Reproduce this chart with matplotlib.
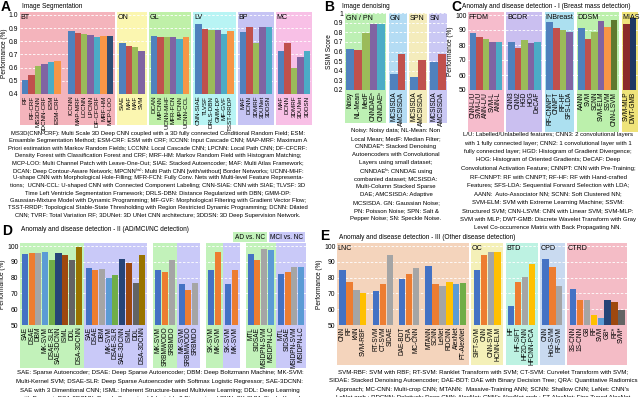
import matplotlib
matplotlib.use("Agg")
import matplotlib.pyplot as plt

plt.rcParams["font.family"] = ["Liberation Sans", "DejaVu Sans"]

W, H = 640, 397

# ---------------- data ----------------
# A: image segmentation (dice)
seg_groups = ["BT", "ON", "GL", "LV", "BP", "MC"]
seg_labels = [
    [["RF", "RF-CRF", "MS3DCNN", "3DCNN-CRF", "ESM", "ESM-CRF"],
     ["ICCNN", "MAP-MRF", "LCCNN", "LPCNN", "DF-CFCRF", "MRF-HM", "MCP-LOO"]],
    [["SIAE", "MAF", "MAF", "SVM"]],
    [["DCAN", "MPCNN", "UCNN-MHF", "MFR-FCN", "MPCNN", "UCNN-CCL"]],
    [["CNN-SIAE", "TLVSF", "DRLS-DBN", "GMM-DP", "MF-GVF", "TSST-RRDP"]],
    [["MAF", "DCNN", "3DMRF", "3DUNet", "3DDSN"]],
    [["MAF", "DCNN", "3DMRF", "3DUNet", "3DDSN"]],
]
seg_values = [
    [[0.51, 0.545, 0.615, 0.63, 0.64, 0.65],
     [0.875, 0.865, 0.855, 0.845, 0.835, 0.84, 0.84]],
    [[0.785, 0.765, 0.755, 0.725]],
    [[0.84, 0.835, 0.83, 0.835, 0.82, 0.83]],
    [[0.935, 0.89, 0.885, 0.885, 0.855, 0.875]],
    [[0.87, 0.91, 0.785, 0.91, 0.91]],
    [[0.73, 0.79, 0.60, 0.68, 0.73]],
]

# B: image denoising (SSIM)
den_groups = ["GN / PN", "GN", "SPN", "SN"]
den_labels = [
    [["Noisy", "NL-Mean", "MedF", "CNNDAEᵃ", "CNNDAEᵇ"]],
    [["MCSISDA", "AMCSISDA"]],
    [["MCSISDA", "AMCSISDA"]],
    [["MCSISDA", "AMCSISDA"]],
]
den_values = [
    [[0.625, 0.615, 0.795, 0.885, 0.89]],
    [[0.37, 0.57]],
    [[0.34, 0.51]],
    [[0.49, 0.57]],
]

# C: breast mass detection
bm_groups = ["FFDM", "BCDR", "INBreast", "DDSM", "MIAS"]
bm_labels = [
    [["CNN-L/U", "SVM-L/U", "ANN-L/U", "SVM-L", "ANN-L"]],
    [["CNN3", "CNN2", "HGD", "HOG", "DeCAF"]],
    [["RF-CNNPT", "CNNPT", "RF-HF", "SFS-LDA"]],
    [["AANN", "SVM", "SCNN", "SVM-ELM", "SSVM", "CNN-LSVM"]],
    [["SVM-MLP", "DWT-GMB"]],
]
bm_values = [
    [[88.2, 85.5, 83.8, 82.3, 81.8]],
    [[81.8, 77.8, 83.1, 81.1, 82.0]],
    [[95.5, 91.1, 90.0, 88.9]],
    [[91.1, 84.0, 88.9, 96.0, 91.8, 97.0]],
    [[94.0, 97.8]],
]

# D: AD / MCI / NC detection (bands alternate AD vs. NC, MCI vs. NC)
ad_groups = ["", "", "", "", "", "", "", ""]
ad_labels = [
    [["SAE", "DSAE", "DBM", "MK-SVM", "DSAE-SLR", "SAE-3DCNN", "ISML", "DDL", "DSA-3DCNN"]],
    [["SAE", "DSAE", "DBM", "MK-SVM", "DSAE-SLR", "SAE-3DCNN", "ISML", "DDL", "DSA-3DCNN"]],
    [["MK-SVM", "SRBMWODO", "SRBMDO"]],
    [["MK-SVM", "SRBMWODO", "SRBMDO"]],
    [["SK-SVM", "MK-SVM"]],
    [["SK-SVM", "MK-SVM"]],
    [["MTL", "SIDSAE", "MSIDPN-SVM", "MSIDPN-LC"]],
    [["MTL", "SIDSAE", "MSIDPN-SVM", "MSIDPN-LC"]],
]
ad_values = [
    [[94.8, 95.9, 95.4, 96.0, 91.3, 95.7, 94.1, 91.3, 99.6]],
    [[86.1, 84.6, 85.2, 79.6, 82.0, 92.0, 89.1, 76.7, 94.3]],
    [[85.0, 83.7, 91.5]],
    [[76.3, 72.4, 76.7]],
    [[85.0, 96.0]],
    [[76.3, 84.6]],
    [[95.0, 91.5, 98.0, 97.4]],
    [[82.2, 83.7, 86.7, 86.7]],
]

# E: other disease detection
od_groups = ["LNC", "OC", "BTD", "CPD", "CTRD"]
od_labels = [
    [["CNN", "RF", "kNN", "SVM-RBF"], ["RT-SVM", "CT-SVM", "SIDAE"],
     ["DAE-BDT", "QRA", "MC-CNN"],
     ["MTANN", "SCNN", "LeNet", "RDCNN", "AlexNet", "FT-AlexNet"]],
    [["SIFT-SVM", "CNN", "CNN-SVM", "HCNN-ELM"]],
    [["HF", "HF-SIFT", "HF2D-CNN", "HFCNN-PCA"]],
    [["CNN", "HoG-SVM", "RF-SVM"]],
    [["3S-CNN", "1S-CNN", "GB", "RF", "SVM", "GB*", "RF*", "SVM*"]],
]
od_values = [
    [[85.0, 77.3, 72.5, 70.6], [71.6, 76.0, 94.2], [79.4, 82.4, 86.2],
     [87.3, 76.3, 75.0, 77.5, 75.8, 76.7]],
    [[85.0, 94.2, 96.0, 96.2]],
    [[61.8, 77.4, 80.5, 89.0]],
    [[92.0, 86.6, 75.0]],
    [[72.8, 65.7, 65.7, 56.1, 54.5, 65.9, 64.9, 59.4]],
]

# ---------------- styles ----------------
o7 = {"b": "#4f81bd", "r": "#c0504d", "g": "#9bbb59", "p": "#8064a2", "c": "#4bacc6",
      "o": "#f79646", "n": "#2c4d75", "dg": "#5f7a2e", "m": "#8b2c2a", "nv": "#1f3864"}
o16 = {"b": "#4472c4", "o": "#ed7d31", "g": "#a5a5a5", "y": "#ffc000", "l": "#5b9bd5",
       "gr": "#70ad47", "n": "#264478", "br": "#9e480e", "dg": "#636363", "gd": "#997300"}

seq = ["b", "r", "g", "p", "c", "o", "n"]
seg_colors = [[[o7[k] for k in seq[:len(s)]] for s in g] for g in seg_labels]
den_colors = [[[o7[k] for k in seq[:len(s)]] for s in g] for g in den_labels]
bm_colors = [[[o7[k] for k in seq[:5]]], [[o7[k] for k in seq[:5]]], [[o7[k] for k in seq[:4]]],
             [[o7[k] for k in ["b", "r", "g", "p", "o", "dg"]]], [[o7["m"], o7["nv"]]]]
ad_big = [o16[k] for k in ["b", "o", "g", "l", "gr", "n", "br", "dg", "gd"]]
ad_colors = [[ad_big], [ad_big], [ad_big[:3]], [ad_big[:3]], [ad_big[:2]], [ad_big[:2]],
             [ad_big[:4]], [ad_big[:4]]]
od_colors = [[[o16[k] for k in ["b", "o", "g", "y"]], [o16[k] for k in ["b", "o", "g"]],
              [o16[k] for k in ["b", "o", "g"]],
              [o16[k] for k in ["b", "o", "g", "y", "l", "gr"]]],
             [[o16[k] for k in ["b", "o", "g", "y"]]], [[o16[k] for k in ["b", "o", "g", "y"]]],
             [[o16[k] for k in ["b", "o", "g"]]],
             [[o16[k] for k in ["b", "o", "g", "y", "l", "n", "br", "dg"]]]]

seg_bands = ["#f4b4bc", "#fbf6b0", "#bff0a8", "#b8f4f4", "#c6c4f4", "#f8c0e6"]
den_bands = ["#bdf0b4", "#b4dcf4", "#f4ecbc", "#cac8f4"]
bm_bands = ["#f6bccc", "#cabff0", "#ace0f0", "#bcf0ac", "#efe37a"]
ad_bands = ["#c2f2ba", "#c9c9f8"] * 4
od_bands = ["#f4d4bc", "#f4f0b8", "#bdf2e2", "#c9daf0", "#f4bcc6"]

TICK_FS = 4.7   # tick labels
SMALL_FS = 4.7  # titles / axis labels
CAP_FS = 4.3    # captions

fig = plt.figure(figsize=(W / 100, H / 100), dpi=100)


def px_axes(x0, y0, x1, y1):
    return fig.add_axes([x0 / W, 1 - y1 / H, (x1 - x0) / W, (y1 - y0) / H])


def ftext(x, y, s, **kw):
    fig.text(x / W, 1 - y / H, s, **kw)


def panel(rect, labels, values, colors, names, bands, ylim, yticks, yfmt, depth,
          pad, sub_gap, gaps, width=1.0, ylabel="Performance (%)", xfs=TICK_FS):
    ax = px_axes(*rect)
    x = 0.0
    ticks, ticklabels = [], []
    for i, (subs, vals, cols) in enumerate(zip(labels, values, colors)):
        start = x
        x += pad
        for k, (sl, sv, sc) in enumerate(zip(subs, vals, cols)):
            if k:
                x += sub_gap
            pos = [x + j + 0.5 for j in range(len(sl))]
            ax.bar(pos, [v - ylim[0] for v in sv], bottom=ylim[0], width=width,
                   color=sc, zorder=2)
            ticks += pos
            ticklabels += sl
            x += len(sl)
        x += pad
        ax.axvspan(start, x, ymin=-depth, ymax=1, color=bands[i], zorder=0,
                   clip_on=False, lw=0)
        if names[i]:
            ax.text(start + 0.1, ylim[1] - (ylim[1] - ylim[0]) * 0.025, names[i],
                    fontsize=SMALL_FS + 0.4, va="top", ha="left", zorder=3)
        if i < len(labels) - 1:
            x += gaps[i] if isinstance(gaps, list) else gaps
    ax.set_xlim(0, x)
    ax.set_ylim(*ylim)
    ax.set_yticks(yticks)
    ax.set_yticklabels([yfmt.format(t) for t in yticks], fontsize=TICK_FS + 0.2)
    ax.set_xticks(ticks)
    ax.set_xticklabels(ticklabels, rotation=90, fontsize=xfs)
    ax.tick_params(length=0, pad=1.2)
    ax.set_axisbelow(True)
    ax.yaxis.grid(True, color="white", lw=0.6, ls=(0, (3, 2)))
    for s in ax.spines.values():
        s.set_visible(False)
    ax.set_ylabel(ylabel, fontsize=SMALL_FS, labelpad=0.5)
    return ax


def caption(xc, y0, lines, dy, fs=CAP_FS):
    for i, ln in enumerate(lines):
        ftext(xc, y0 + i * dy, ln, fontsize=fs, ha="center", va="top")


# ---------------- A ----------------
ftext(1, 0, "A", fontsize=10, fontweight="bold", va="top")
ftext(22, 3, "Image Segmentation", fontsize=SMALL_FS, va="top")
panel((20, 11.7, 312, 94), seg_labels, seg_values, seg_colors, seg_groups, seg_bands,
      (0.4, 1.025), [0.4, 0.5, 0.6, 0.7, 0.8, 0.9, 1.0], "{:.1f}", 0.377,
      0.3, 1.15, 0.3, xfs=4.5)
caption(158, 130.5, [
    "MS3D(CNN-CRF): Multi Scale 3D Deep CNN coupled with a 3D fully connected Conditional Random Field; ESM:",
    "Ensamble Segmentation Method; ESM-CRF: ESM with CRF; ICCNN: Input Cascade CNN; MAP-MRF: Maximum A",
    "Priori estimation with Markov Random Fields; LCCNN: Local Cascade CNN; LPCNN: Local Path CNN; DF-CFCRF:",
    "Density Forest with Classification Forest and CRF; MRF-HM: Markov Random Field with Histogram Matching;",
    "MCP-LOO: Multi Channel Patch with Leave-One-Out; SIAE: Stacked Autoencoder; MAF: Multi Atlas Framework;",
    "DCAN: Deep Contour-Aware Network; MPCNN⁽ʷ⁾: Multi Path CNN [with/without] Border Networks; UCNN-MHF:",
    "U-shape CNN with Morphological Hole-Filling; MFR-FCN: Fully Conv. Nets with Multi-level Feature Representa-",
    "tions;  UCNN-CCL: U-shaped CNN with Connected Component Labeling; CNN-SIAE: CNN with SIAE; TLVSF: 3D",
    "Time Left Ventricle Segmentation Framework; DRLS-DBN: Distance Regularized with DBN; GMM-DP:",
    "Gaussian-Mixture Model with Dynamic Programming; MF-GVF: Morphological Filtering with Gradient Vector Flow;",
    "TSST-RRDP: Topological Stable-State Thresholding with Region Restricted Dynamic Programming; DCNN: Dilated",
    "CNN; TVRF: Total Variation RF; 3DUNet: 3D UNet CNN architecture; 3DDSN: 3D Deep Supervision Network.",
], 7.5, 4.2)

# ---------------- B ----------------
ftext(324, 0, "B", fontsize=10, fontweight="bold", va="top")
ftext(342, 3, "Image denoising", fontsize=SMALL_FS, va="top")
panel((345, 13, 447, 90), den_labels, den_values, den_colors, den_groups, den_bands,
      (0.2, 1.0), [0.2, 0.3, 0.4, 0.5, 0.6, 0.7, 0.8, 0.9, 1.0], "{:g}", 0.43,
      0.15, 0, 0.3, ylabel="SSIM Score")
caption(396, 128, [
    "Noisy: Noisy data; NL-Mean: Non",
    "Local Mean; MedF: Median Filter;",
    "CNNDAEᵃ: Stacked Denoising",
    "Autoencoders with Convolutional",
    "Layers using small dataset;",
    "CNNDAEᵇ: CNNDAE using",
    "combanied dataset; MCSISDA:",
    "Multi-Column Stacked Sparse",
    "DAE; AMCSISDA: Adaptive",
    "MCSISDA. GN: Gaussian Noise;",
    "PN: Poisson Noise; SPN: Salt &",
    "Pepper Noise; SN: Speckle Noise.",
], 8.0)

# ---------------- C ----------------
ftext(451, 0, "C", fontsize=10, fontweight="bold", va="top")
ftext(462, 3, "Anomaly and disease detection - I (Breast mass detection)", fontsize=SMALL_FS, va="top")
panel((468, 12, 638, 90), bm_labels, bm_values, bm_colors, bm_groups, bm_bands,
      (50, 102), [50, 60, 70, 80, 90, 100], "{:d}", 0.54, 0.25, 0, 0.4)
caption(548, 132, [
    "L/U: Labelled/Unlabelled features; CNN3: 2 convolutional layers",
    "with 1 fully connected layer; CNN2: 1 convolutional layer with 1",
    "fully connected layer; HGD: Histogram of Gradient Divergence;",
    "HOG: Histogram of Oriented Gradients; DeCAF: Deep",
    "Convolutional Activation Feature; CNNPT: CNN with Pre-Training;",
    "RF-CNNPT: RF with CNNPT; RF-HF: RF with Hand-crafted",
    "Features; SFS-LDA: Sequential Forward Selection with LDA;",
    "AANN:  Auto-Associator NN; SCNN: Soft Clustered NN;",
    "SVM-ELM: SVM with Extreme Learning Machine; SSVM:",
    "Structured SVM; CNN-LSVM: CNN with Linear SVM; SVM-MLP:",
    "SVM with MLP; DWT-GMB: Discrete Wavelet Transform with Gray",
    "Level Co-occurrence Matrix with Back Propagating NN.",
], 8.5)

# ---------------- D ----------------
ftext(2, 224, "D", fontsize=10, fontweight="bold", va="top")
ftext(21, 226, "Anomaly and disease detection - II (AD/MCI/NC detection)", fontsize=SMALL_FS, va="top")
ftext(250, 237, "AD vs. NC", fontsize=SMALL_FS, ha="center", va="center",
      bbox=dict(facecolor=ad_bands[0], edgecolor="none", pad=1.2))
ftext(287, 237, "MCI vs. NC", fontsize=SMALL_FS, ha="center", va="center",
      bbox=dict(facecolor=ad_bands[1], edgecolor="none", pad=1.2))
panel((20, 243, 306, 325), ad_labels, ad_values, ad_colors, ad_groups, ad_bands,
      (50, 102), [50, 60, 70, 80, 90, 100], "{:d}", 0.52, 0.25, 0,
      [0, 0.9, 0, 0.9, 0, 0.9, 0], width=0.9)
caption(160, 370, [
    "SAE: Sparse Autoencoder; DSAE: Deep Sparse Autoencoder; DBM: Deep Boltzmann Machine; MK-SVM:",
    "Multi-Kernel SVM; DSAE-SLR: Deep Sparse Autoencoder with Softmax Logistic Regressor; SAE-3DCNN:",
    "SAE with 3 Dimentional CNN; ISML: Inherent Structure-based Multiview Learning; DDL: Deep Learning",
    "with Dropout; DSA-3DCNN: Deeply Supervised Adaptable 3 Dimensional CNN; SK-SVM: Single-Kernel",
], 8.8, 4.4)

# ---------------- E ----------------
ftext(320, 229, "E", fontsize=10, fontweight="bold", va="top")
ftext(339, 234, "Anomaly and disease detection - III (Other disease detection)", fontsize=SMALL_FS, va="top")
panel((337, 243, 627, 325), od_labels, od_values, od_colors, od_groups, od_bands,
      (50, 102), [50, 60, 70, 80, 90, 100], "{:d}", 0.49, 0.3, 0.8, 0.35, width=0.9)
caption(483, 369, [
    "SVM-RBF: SVM with RBF; RT-SVM: Ranklet Transform with SVM; CT-SVM: Curvelet Transform with SVM;",
    "SIDAE: Stacked Denoising Autoencoder; DAE-BDT: DAE with Binary Decision Tree; QRA: Quantitative Radiomics",
    "Approach; MC-CNN: Multi-crop CNN; MTANN:  Massive-Training ANN; SCNN: Shallow CNN; LeNet: CNN's",
    "LeNet arch.; RDCNN: Relatively Deep CNN; AlexNet: CNN's AlexNet arch.; FT-AlexNet: Fine Tuned AlexNet",
], 8.8, 4.4)

fig.savefig("out.png", dpi=100)
